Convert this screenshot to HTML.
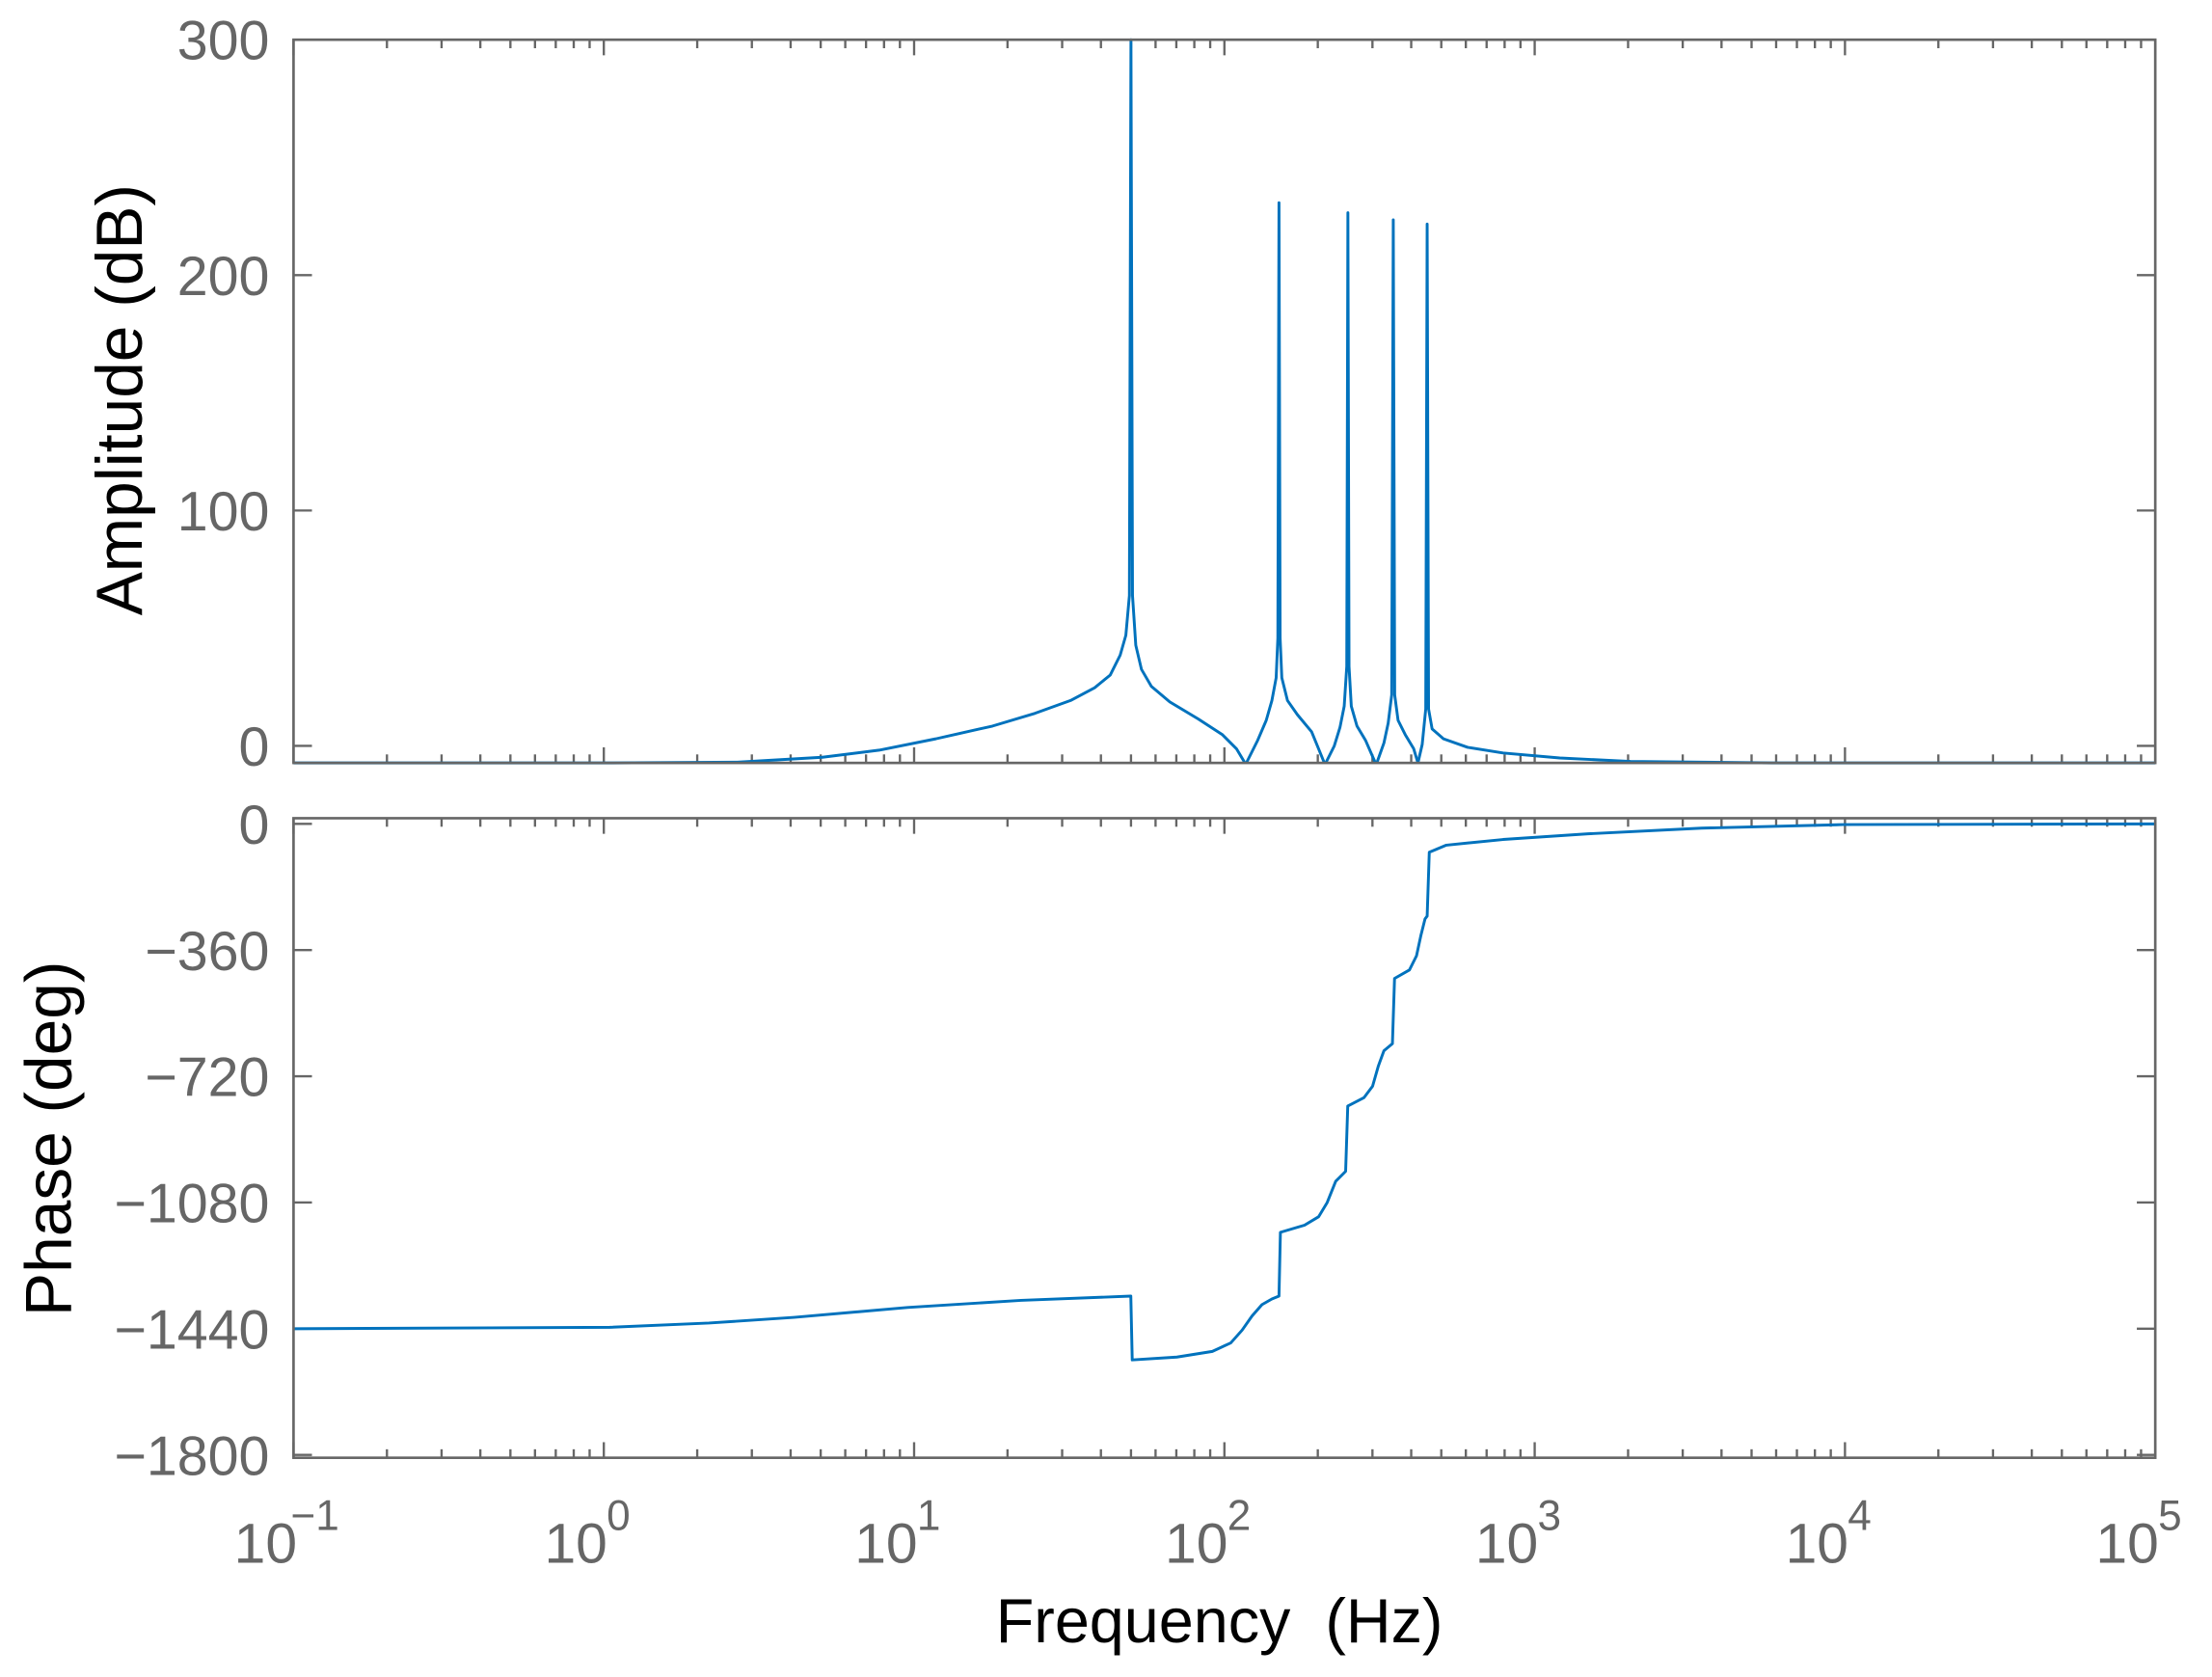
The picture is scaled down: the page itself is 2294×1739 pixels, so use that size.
<!DOCTYPE html>
<html><head><meta charset="utf-8">
<style>
html,body{margin:0;padding:0;background:#fff;}
svg{display:block;}
text{font-family:"Liberation Sans",Arial,sans-serif;}
</style></head>
<body>
<svg id="s" width="2294" height="1739" viewBox="0 0 1560 1182.6" xmlns="http://www.w3.org/2000/svg">
<rect width="1560" height="1183" fill="#fff"/>
<g id="ticks" stroke="#666" stroke-width="1.6" fill="none"></g>
<g fill="none" stroke="#0072BD" stroke-width="2" stroke-linejoin="round">
<path d="M207,538 L430,538 L520,537.5 L580,534 L620,529 L660,521 L700,512 L730,503 L755,494 L772,485 L783,476 L790,462 L794,448 L796.5,420 L797.6,28 L798.7,420 L801,455 L805,472 L812,484 L825,495 L845,507 L862,518 L872,528 L878,538"/>
<path d="M879,538 L887,522 L893,508 L897,494 L900,478 L901.2,450 L902,143 L902.8,450 L904,478 L908,494 L915,504 L925,516 L934,538"/>
<path d="M935,538 L941,526 L945,513 L948,498 L949.8,470 L950.6,150 L951.4,470 L953,498 L957,512 L963,522 L970,538"/>
<path d="M971,538 L976,524 L979,510 L981.5,490 L982.6,155 L983.6,490 L986,508 L991,518 L997,528 L1000,538"/>
<path d="M1000,538 L1003,525 L1005.5,500 L1006.5,158 L1007.5,500 L1010,514 L1018,521 L1035,527 L1060,531 L1100,534.5 L1150,537 L1250,538 L1520,538"/>
<path d="M207,937 L430,936 L500,933 L560,929 L640,922 L720,917 L797.5,914 L798.5,959 L830,957 L855,953 L868,947 L876,938 L883,928 L890,920 L897,916 L902,914 L903,869 L920,864 L930,858 L936,848 L942,833 L949,826 L950.5,780 L962,774 L968,766 L972,752 L976,741 L982,736 L983.5,690 L994,684 L999,674 L1002,660 L1005,648 L1006.5,646 L1008,601 L1020,596 L1060,592 L1120,588 L1200,584 L1300,581.5 L1520,581"/>
</g>
<rect x="207" y="28" width="1313" height="510" fill="none" stroke="#666" stroke-width="1.8"/>
<rect x="207" y="577" width="1313" height="451" fill="none" stroke="#666" stroke-width="1.8"/>
<g fill="#666" font-size="39" text-anchor="end">
<text x="190" y="42">300</text>
<text x="190" y="208">200</text>
<text x="190" y="374">100</text>
<text x="190" y="540">0</text>
<text x="190" y="595">0</text>
<text x="190" y="684">−360</text>
<text x="190" y="773">−720</text>
<text x="190" y="862">−1080</text>
<text x="190" y="951">−1440</text>
<text x="190" y="1040">−1800</text>
</g>
<g id="xl" fill="#666" font-size="40"></g>
<text x="860" y="1158" font-size="44" text-anchor="middle" fill="#000" xml:space="preserve">Frequency  (Hz)</text>
<text transform="translate(100,282) rotate(-90)" font-size="46" text-anchor="middle" fill="#000">Amplitude (dB)</text>
<text transform="translate(50,803) rotate(-90)" font-size="46" text-anchor="middle" fill="#000">Phase (deg)</text>
</svg>
<script>
(function(){
var ns="http://www.w3.org/2000/svg";
var g=document.getElementById('ticks'),xl=document.getElementById('xl');
var L=207,R=1520,D=(R-L)/6;
function ln(x1,y1,x2,y2){var l=document.createElementNS(ns,'line');l.setAttribute('x1',x1);l.setAttribute('y1',y1);l.setAttribute('x2',x2);l.setAttribute('y2',y2);g.appendChild(l);}
var boxes=[[28,538],[577,1028]];
for(var d=0;d<6;d++){for(var k=1;k<=9;k++){var x=L+D*(d+Math.log10(k));var len=(k==1)?11:6;
 boxes.forEach(function(b){ln(x,b[0],x,b[0]+len);ln(x,b[1],x,b[1]-len);});}}
boxes.forEach(function(b){ln(R,b[0],R,b[0]+11);ln(R,b[1],R,b[1]-11);});
[28,194,360,526].forEach(function(y){ln(L,y,L+13,y);ln(R,y,R-13,y);});
[581,670,759,848,937,1026].forEach(function(y){ln(L,y,L+13,y);ln(R,y,R-13,y);});
var ex=['−1','0','1','2','3','4','5'];
for(var i=0;i<=6;i++){var x=L+D*i;
 var t=document.createElementNS(ns,'text');t.setAttribute('x',x-42);t.setAttribute('y',1102);t.textContent='10';xl.appendChild(t);
 var s=document.createElementNS(ns,'text');s.setAttribute('x',x+(i==0?-2:2));s.setAttribute('y',1079);s.setAttribute('font-size','30');s.textContent=ex[i];xl.appendChild(s);}
})();
</script>
</body></html>
